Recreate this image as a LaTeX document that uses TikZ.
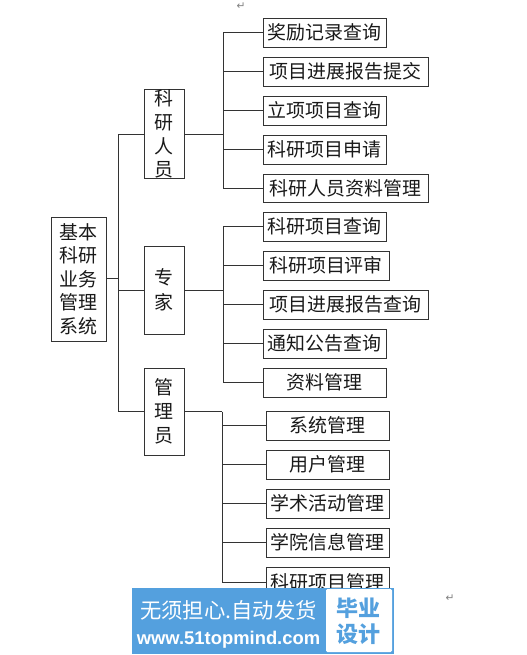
\documentclass[tikz,border=0pt]{standalone}
\usepackage{fontspec}
\setmainfont{Noto Sans CJK SC}
\newfontfamily\markfont{DejaVu Sans}
\newfontfamily\urlfont{Liberation Sans}
\usetikzlibrary{calc}
\definecolor{bannerblue}{RGB}{84,160,222}
\tikzset{
  box/.style={draw=black!80, line width=0.7pt, inner sep=0pt, font=\fontsize{14.2}{17}\selectfont, text=black!90},
  link/.style={draw=black!80, line width=0.7pt},
  retmark/.style={text=gray, inner sep=0pt, font=\markfont\fontsize{8}{8}\selectfont},
}
\newcommand{\boxat}[6]{% name, left, top, right, bottom, text
  \node[box, minimum width=(#4-#2)*0.75pt, minimum height=(#5-#3)*0.75pt, align=center] (#1) at ({(#2+#4)/2},{(#3+#5)/2}) {#6};}
\begin{document}
\begin{tikzpicture}[x=0.75pt, y=-0.75pt]
  \useasboundingbox (0,0) rectangle (526,655);
  % Root and the three groups
  \boxat{root}{51}{217}{106}{341}{基本\\[0.6pt]科研\\[0.6pt]业务\\[0.6pt]管理\\[0.6pt]系统}
  \boxat{staff}{144}{90}{184}{178}{科\\[0.8pt]研\\[0.8pt]人\\[0.8pt]员}
  \boxat{expert}{144}{246}{184}{334}{专\\[1.5pt]家}
  \boxat{admin}{144}{368}{184}{455}{管\\[1pt]理\\[1pt]员}
  % Leaves of the first group
  \boxat{s1}{263}{18}{386}{47}{奖励记录查询}
  \boxat{s2}{263}{57}{428}{86}{项目进展报告提交}
  \boxat{s3}{263}{96}{386}{125}{立项项目查询}
  \boxat{s4}{263}{135}{386}{164}{科研项目申请}
  \boxat{s5}{263}{174}{428}{202}{科研人员资料管理}
  % Leaves of the second group
  \boxat{e1}{263}{212}{386}{241}{科研项目查询}
  \boxat{e2}{263}{251}{389}{280}{科研项目评审}
  \boxat{e3}{263}{290}{428}{319}{项目进展报告查询}
  \boxat{e4}{263}{329}{386}{358}{通知公告查询}
  \boxat{e5}{263}{368}{386}{397}{资料管理}
  % Leaves of the third group
  \boxat{a1}{266}{411}{389}{440}{系统管理}
  \boxat{a2}{266}{450}{389}{479}{用户管理}
  \boxat{a3}{266}{489}{389}{518}{学术活动管理}
  \boxat{a4}{266}{528}{389}{557}{学院信息管理}
  \boxat{a5}{266}{567}{389}{597}{科研项目管理}
  % Connectors
  \coordinate (trunk) at (118,0);
  \draw[link] (root.east |- 0,278) -- (trunk |- 0,278);
  \draw[link] (staff.west) -| (trunk |- admin.west) -- (admin.west);
  \draw[link] (trunk |- expert.west) -- (expert.west);
  \coordinate (sbus) at (223,0);
  \draw[link] (staff.east) -- (sbus |- staff.east);
  \draw[link] (s1.west) -| (sbus |- s5.west) -- (s5.west);
  \foreach \n in {s2,s3,s4} \draw[link] (sbus |- \n.west) -- (\n.west);
  \draw[link] (expert.east) -- (sbus |- expert.east);
  \draw[link] (e1.west) -| (sbus |- e5.west) -- (e5.west);
  \foreach \n in {e2,e3,e4} \draw[link] (sbus |- \n.west) -- (\n.west);
  \coordinate (abus) at (222,0);
  \draw[link] (admin.east) -- (abus |- admin.east);
  \draw[link] (abus |- admin.east) -- (abus |- a5.west) -- (a5.west);
  \foreach \n in {a1,a2,a3,a4} \draw[link] (abus |- \n.west) -- (\n.west);
  % Return marks
  \node[retmark] (ret1) at (241,6) {↵};
  \node[retmark] (ret2) at (450,598) {↵};
  % Banner
  \fill[bannerblue] (132,588) rectangle (394,654);
  \fill[white, rounded corners=1pt] (326,589) rectangle (392,652);
  \node[text=white, inner sep=0pt, font=\fontsize{16}{18}\selectfont] (slogan) at (228.5,610.5) {无须担心.自动发货};
  \node[text=white, inner sep=0pt, font=\urlfont\bfseries\fontsize{13.8}{15}\selectfont] (site) at (228.5,640) {www.51topmind.com};
  \node[text=bannerblue, inner sep=0pt, align=center, font=\bfseries\fontsize{16.5}{19.5}\selectfont] (tag) at (358,621) {毕业\\设计};
\end{tikzpicture}
\end{document}
